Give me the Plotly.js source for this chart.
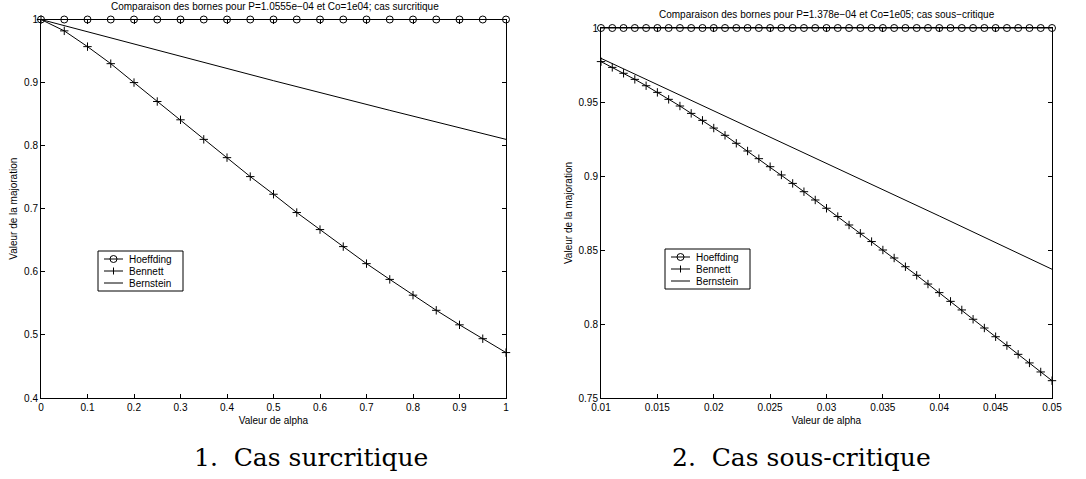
<!DOCTYPE html>
<html>
<head>
<meta charset="utf-8">
<script src="https://cdn.plot.ly/plotly-3.0.1.min.js"></script>
<style>html,body{margin:0;padding:0;background:#fff;}#chart{width:1086px;height:479px;}</style>
</head>
<body>
<div id="chart"></div>
<script>
// ---- Left panel: cas surcritique ----
const alphaLeft = [0,0.05,0.1,0.15,0.2,0.25,0.3,0.35,0.4,0.45,0.5,0.55,0.6,0.65,0.7,0.75,0.8,0.85,0.9,0.95,1];
const hoeffdingLeft = [1,1,1,1,1,1,1,1,1,1,1,1,1,1,1,1,1,1,1,1,1];
const bennettLeft = [1,0.982,0.957,0.93,0.9,0.87,0.841,0.81,0.781,0.751,0.723,0.694,0.667,0.64,0.613,0.588,0.563,0.539,0.516,0.494,0.472];
const alphaBernLeft = [0,0.25,0.5,0.75,1];
const bernsteinLeft = [1,0.951,0.903,0.856,0.81];
const xTicksLeft = [0,0.1,0.2,0.3,0.4,0.5,0.6,0.7,0.8,0.9,1];
const xTickTextLeft = ["0","0.1","0.2","0.3","0.4","0.5","0.6","0.7","0.8","0.9","1"];
const yTicksLeft = [0.4,0.5,0.6,0.7,0.8,0.9,1];
const yTickTextLeft = ["0.4","0.5","0.6","0.7","0.8","0.9","1"];

// ---- Right panel: cas sous-critique ----
const alphaRight = [0.010,0.011,0.012,0.013,0.014,0.015,0.016,0.017,0.018,0.019,0.020,0.021,0.022,0.023,0.024,0.025,0.026,0.027,0.028,0.029,0.030,0.031,0.032,0.033,0.034,0.035,0.036,0.037,0.038,0.039,0.040,0.041,0.042,0.043,0.044,0.045,0.046,0.047,0.048,0.049,0.050];
const hoeffdingRight = [1,1,1,1,1,1,1,1,1,1,1,1,1,1,1,1,1,1,1,1,1,1,1,1,1,1,1,1,1,1,1,1,1,1,1,1,1,1,1,1,1];
const bennettRight = [0.9773,0.9734,0.9694,0.9653,0.9610,0.9565,0.9518,0.9473,0.9423,0.9376,0.9324,0.9275,0.9221,0.9169,0.9117,0.9063,0.9007,0.8950,0.8894,0.8838,0.8782,0.8726,0.8669,0.8613,0.8557,0.8500,0.8446,0.8387,0.8329,0.8270,0.8212,0.8153,0.8095,0.8032,0.7973,0.7914,0.7854,0.7795,0.7737,0.7676,0.7617];
const alphaBernRight = [0.01,0.02,0.03,0.04,0.05];
const bernsteinRight = [0.9795,0.944,0.909,0.873,0.837];
const xTicksRight = [0.01,0.015,0.02,0.025,0.03,0.035,0.04,0.045,0.05];
const xTickTextRight = ["0.01","0.015","0.02","0.025","0.03","0.035","0.04","0.045","0.05"];
const yTicksRight = [0.75,0.8,0.85,0.9,0.95,1];
const yTickTextRight = ["0.75","0.8","0.85","0.9","0.95","1"];

const seriesNames = ["Hoeffding","Bennett","Bernstein"];
const legendSymbols = ["circle","cross","none"];
const titleLeft = "Comparaison des bornes pour P=1.0555e\u221204 et Co=1e04; cas surcritique";
const titleRight = "Comparaison des bornes pour P=1.378e\u221204 et Co=1e05; cas sous\u2212critique";
const captionLeft = "1.\u00a0\u00a0Cas surcritique";
const captionRight = "2.\u00a0\u00a0Cas sous-critique";
const xTitle = "Valeur de alpha";
const yTitle = "Valeur de la majoration";

const W = 1086, H = 479;
const px = v => v / W;
const py = v => 1 - v / H;

const lineStyle = {color:'#000', width:1};
const circ = {symbol:'circle-open', size:7, color:'#000', line:{color:'#000', width:1}};
const cross = {symbol:'cross-thin-open', size:6, color:'#000', line:{color:'#000', width:1}};

const traces = [
  {x:alphaLeft, y:hoeffdingLeft, name:seriesNames[0], mode:'lines+markers', line:lineStyle, marker:circ, xaxis:'x', yaxis:'y', cliponaxis:false},
  {x:alphaLeft, y:bennettLeft, name:seriesNames[1], mode:'lines+markers', line:lineStyle, marker:cross, xaxis:'x', yaxis:'y', cliponaxis:false},
  {x:alphaBernLeft, y:bernsteinLeft, name:seriesNames[2], mode:'lines', line:lineStyle, xaxis:'x', yaxis:'y', cliponaxis:false},
  {x:alphaRight, y:hoeffdingRight, name:seriesNames[0], mode:'lines+markers', line:lineStyle, marker:circ, xaxis:'x2', yaxis:'y2', cliponaxis:false},
  {x:alphaRight, y:bennettRight, name:seriesNames[1], mode:'lines+markers', line:lineStyle, marker:cross, xaxis:'x2', yaxis:'y2', cliponaxis:false},
  {x:alphaBernRight, y:bernsteinRight, name:seriesNames[2], mode:'lines', line:lineStyle, xaxis:'x2', yaxis:'y2', cliponaxis:false}
];

const tickFont = {family:'Liberation Sans, Arial, sans-serif', size:10, color:'#000'};
function axisBase(extra){
  return Object.assign({
    showline:true, linecolor:'#000', linewidth:1, mirror:'ticks',
    ticks:'inside', ticklen:4, tickwidth:1, tickcolor:'#000',
    showgrid:false, zeroline:false, tickfont:tickFont, tickmode:'array'
  }, extra);
}

// MATLAB-style compact legend box drawn in pixel space
const shapes = [];
const annotations = [];
function addLegend(left, top, width, rowGap){
  const height = rowGap * seriesNames.length + 4;
  shapes.push({type:'rect', xref:'paper', yref:'paper', x0:px(left), x1:px(left+width), y0:py(top), y1:py(top+height),
    line:{color:'#000', width:1}, fillcolor:'#fff', layer:'above'});
  seriesNames.forEach((name, i) => {
    const cy = top + 8 + i * rowGap;
    shapes.push({type:'line', xref:'paper', yref:'paper', x0:px(left+6), x1:px(left+25), y0:py(cy), y1:py(cy),
      line:{color:'#000', width:1}, layer:'above'});
    const cx = left + 15.5;
    if (legendSymbols[i] === 'circle') {
      shapes.push({type:'circle', xref:'paper', yref:'paper', x0:px(cx-3.5), x1:px(cx+3.5), y0:py(cy-3.5), y1:py(cy+3.5),
        line:{color:'#000', width:1}, fillcolor:'rgba(0,0,0,0)', layer:'above'});
    } else if (legendSymbols[i] === 'cross') {
      shapes.push({type:'line', xref:'paper', yref:'paper', x0:px(cx), x1:px(cx), y0:py(cy-3.5), y1:py(cy+3.5),
        line:{color:'#000', width:1}, layer:'above'});
    }
    annotations.push({text:name, xref:'paper', yref:'paper', x:px(left+29), y:py(cy), xanchor:'left', yanchor:'middle',
      showarrow:false, font:{family:'Liberation Sans, Arial, sans-serif', size:10, color:'#000'}});
  });
}
addLegend(98, 251, 85, 12);
addLegend(665, 249, 85, 12);

annotations.push(
  {text:titleLeft, xref:'paper', yref:'paper', x:px(275), y:py(7), xanchor:'center', yanchor:'middle', showarrow:false, font:{size:10}},
  {text:titleRight, xref:'paper', yref:'paper', x:px(827), y:py(15), xanchor:'center', yanchor:'middle', showarrow:false, font:{size:10}},
  {text:captionLeft, xref:'paper', yref:'paper', x:px(311), y:py(457), xanchor:'center', yanchor:'middle', showarrow:false, font:{family:'DejaVu Serif, serif', size:25}},
  {text:captionRight, xref:'paper', yref:'paper', x:px(801), y:py(457), xanchor:'center', yanchor:'middle', showarrow:false, font:{family:'DejaVu Serif, serif', size:25}}
);

const layout = {
  width:W, height:H,
  margin:{l:0, r:0, t:0, b:0},
  paper_bgcolor:'#fff', plot_bgcolor:'#fff',
  font:{family:'Liberation Sans, Arial, sans-serif', size:10, color:'#000'},
  showlegend:false,
  xaxis: axisBase({domain:[px(41), px(506)], range:[0,1], anchor:'y', tickvals:xTicksLeft, ticktext:xTickTextLeft,
    title:{text:xTitle, font:{size:10}, standoff:4}}),
  yaxis: axisBase({domain:[py(398), py(19.5)], range:[0.4,1], anchor:'x', tickvals:yTicksLeft, ticktext:yTickTextLeft,
    title:{text:yTitle, font:{size:10}, standoff:4}}),
  xaxis2: axisBase({domain:[px(601), px(1052)], range:[0.01,0.05], anchor:'y2', tickvals:xTicksRight, ticktext:xTickTextRight,
    title:{text:xTitle, font:{size:10}, standoff:4}}),
  yaxis2: axisBase({domain:[py(398), py(28)], range:[0.75,1], anchor:'x2', tickvals:yTicksRight, ticktext:yTickTextRight,
    title:{text:yTitle, font:{size:10}, standoff:4}}),
  shapes: shapes,
  annotations: annotations
};

Plotly.newPlot('chart', traces, layout, {displayModeBar:false, staticPlot:true});
</script>
</body>
</html>
